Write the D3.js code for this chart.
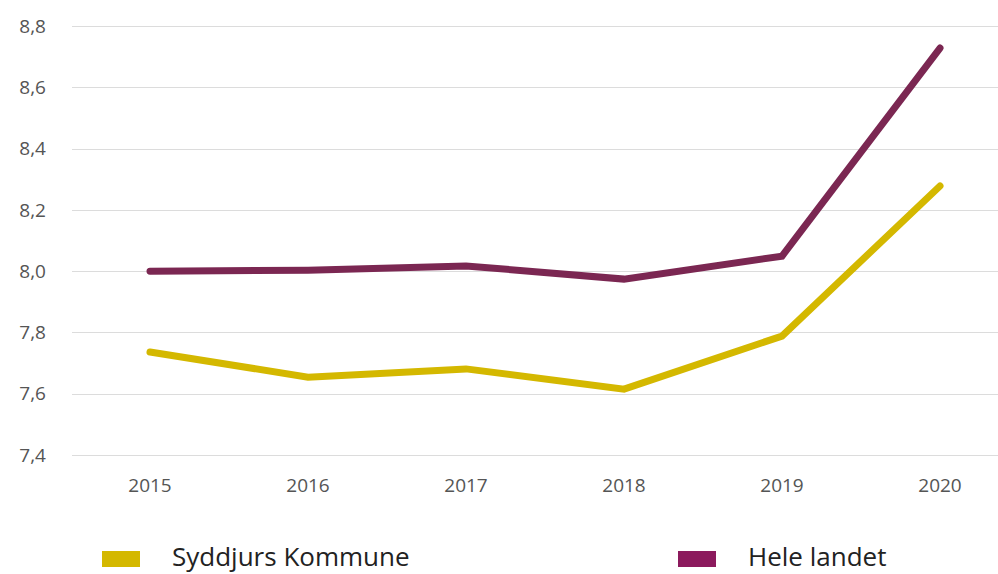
<!DOCTYPE html>
<html>
<head>
<meta charset="utf-8">
<script src="https://cdn.jsdelivr.net/npm/d3@7"></script>
<style>
  body { margin: 0; background: #fff; }
  svg { font-family: "Open Sans", "Noto Sans", sans-serif; }
</style>
</head>
<body>
<svg width="998" height="574"></svg>
<script>
var years = [2015, 2016, 2017, 2018, 2019, 2020];
var syddjurs = [7.736, 7.654, 7.681, 7.615, 7.788, 8.278];
var heleLandet = [8.0, 8.003, 8.017, 7.974, 8.049, 8.728];
var yTicks = [7.4, 7.6, 7.8, 8.0, 8.2, 8.4, 8.6, 8.8];
var seriesNames = ["Syddjurs Kommune", "Hele landet"];
var lineColors = ["#d4b800", "#7b2752"];
var swatchColors = ["#d4b800", "#8c1a5d"];

var svg = d3.select("svg");

var x = d3.scalePoint()
    .domain(years)
    .range([150, 940]);

var y = d3.scaleLinear()
    .domain([7.4, 8.8])
    .range([455, 26]);

var fmt = d => d3.format(".1f")(d).replace(".", ",");

// gridlines
svg.append("g")
  .selectAll("line")
  .data(yTicks)
  .join("line")
    .attr("x1", 72)
    .attr("x2", 998)
    .attr("y1", d => Math.round(y(d)) + 0.5)
    .attr("y2", d => Math.round(y(d)) + 0.5)
    .attr("stroke", "#dcdcdc")
    .attr("stroke-width", 1);

// y labels
svg.append("g")
  .selectAll("text")
  .data(yTicks)
  .join("text")
    .attr("x", 46)
    .attr("y", d => y(d))
    .attr("dy", "0.35em")
    .attr("text-anchor", "end")
    .attr("font-size", 19)
    .attr("fill", "#555")
    .text(fmt);

// x labels
svg.append("g")
  .selectAll("text")
  .data(years)
  .join("text")
    .attr("x", d => x(d))
    .attr("y", 492)
    .attr("text-anchor", "middle")
    .attr("font-size", 19)
    .attr("fill", "#555")
    .text(d => d);

var line = d3.line()
    .x((d, i) => x(years[i]))
    .y(d => y(d));

svg.append("g")
  .selectAll("path")
  .data([syddjurs, heleLandet])
  .join("path")
    .attr("d", line)
    .attr("fill", "none")
    .attr("stroke", (d, i) => lineColors[i])
    .attr("stroke-width", 7)
    .attr("stroke-linecap", "round")
    .attr("stroke-linejoin", "miter");

// legend
var legendX = [102, 678];
var legend = svg.append("g")
  .selectAll("g")
  .data(seriesNames)
  .join("g")
    .attr("transform", (d, i) => "translate(" + legendX[i] + ",551)");

legend.append("rect")
    .attr("width", 38)
    .attr("height", 16)
    .attr("fill", (d, i) => swatchColors[i]);

legend.append("text")
    .attr("x", 70)
    .attr("y", 15)
    .attr("font-size", 26)
    .attr("fill", "#222")
    .text(d => d);
</script>
</body>
</html>
